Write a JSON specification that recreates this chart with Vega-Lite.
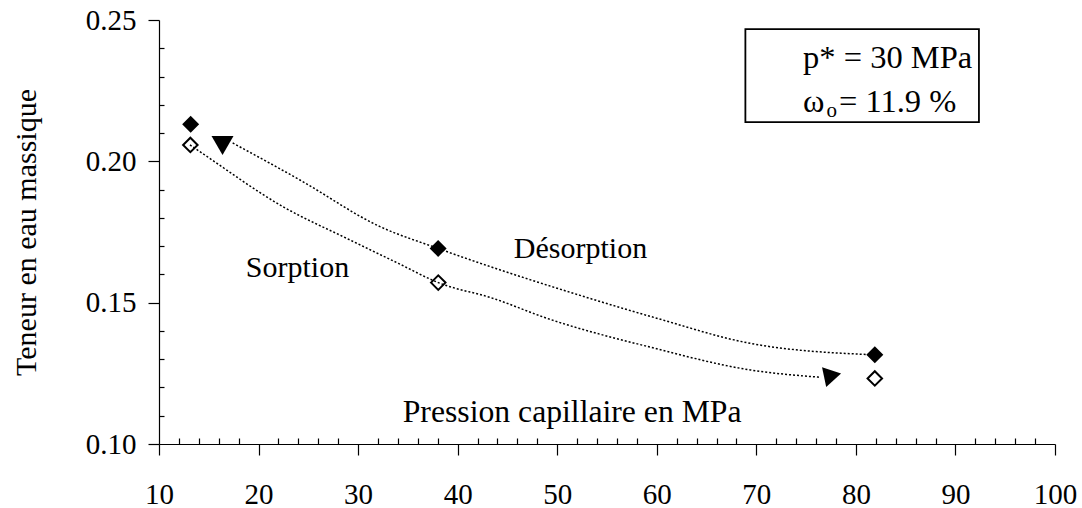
{
  "$schema": "https://vega.github.io/schema/vega-lite/v6.json",
  "width": 896,
  "height": 424,
  "autosize": "none",
  "padding": {"left": 159, "top": 20, "right": 27, "bottom": 64},
  "background": "white",
  "config": {"view": {"stroke": null}, "font": "Liberation Serif"},
  "datasets": {
    "curves": [
      {"curve": "Désorption", "x": 17.4, "y": 0.2065},
      {"curve": "Désorption", "x": 24.16, "y": 0.1934},
      {"curve": "Désorption", "x": 32.2, "y": 0.1769},
      {"curve": "Désorption", "x": 38.02, "y": 0.1692},
      {"curve": "Désorption", "x": 53.29, "y": 0.1515},
      {"curve": "Désorption", "x": 59.99, "y": 0.1445},
      {"curve": "Désorption", "x": 69.4, "y": 0.1356},
      {"curve": "Désorption", "x": 81.5, "y": 0.1316},
      {"curve": "Sorption", "x": 13.11, "y": 0.2058},
      {"curve": "Sorption", "x": 14.12, "y": 0.2034},
      {"curve": "Sorption", "x": 22.48, "y": 0.1839},
      {"curve": "Sorption", "x": 29.18, "y": 0.1722},
      {"curve": "Sorption", "x": 34.04, "y": 0.1639},
      {"curve": "Sorption", "x": 38.05, "y": 0.1571},
      {"curve": "Sorption", "x": 43.58, "y": 0.1515},
      {"curve": "Sorption", "x": 48.94, "y": 0.1445},
      {"curve": "Sorption", "x": 59.3, "y": 0.1343},
      {"curve": "Sorption", "x": 69.4, "y": 0.1262},
      {"curve": "Sorption", "x": 76.43, "y": 0.1236}
    ],
    "points": [
      {"series": "Désorption", "x": 13.18, "y": 0.2131},
      {"series": "Désorption", "x": 38.04, "y": 0.1692},
      {"series": "Désorption", "x": 81.9, "y": 0.1316},
      {"series": "Sorption", "x": 13.15, "y": 0.2058},
      {"series": "Sorption", "x": 38.05, "y": 0.1571},
      {"series": "Sorption", "x": 81.9, "y": 0.1232}
    ],
    "arrows": [
      {"end": "start", "x": 16.38, "y": 0.2056},
      {"end": "finish", "x": 77.66, "y": 0.1243}
    ],
    "labels": [
      {"text": "Désorption", "x": 52.34, "y": 0.1657},
      {"text": "Sorption", "x": 23.91, "y": 0.1591}
    ],
    "xlabel": [
      {"text": "Pression capillaire en MPa", "x": 51.5, "y": 0.1079}
    ],
    "box": [{"x": 68.9, "x2": 92.36, "y": 0.2468, "y2": 0.2139}],
    "boxtext": [
      {"text": "p* = 30 MPa", "x": 74.7, "y": 0.2329},
      {"text": "ω", "x": 74.7, "y": 0.2176},
      {"text": "= 11.9 %", "x": 78.3, "y": 0.2176}
    ],
    "subtext": [{"text": "o", "x": 77.06, "y": 0.2158}]
  },
  "layer": [
    {
      "data": {"name": "curves"},
      "mark": {"type": "line", "interpolate": "monotone", "color": "black", "strokeWidth": 1.5, "strokeDash": [2, 2]},
      "encoding": {
        "x": {"field": "x", "type": "quantitative", "scale": {"domain": [10, 100], "nice": false, "zero": false},
          "axis": {"orient": "bottom",
            "values": [10, 12, 14, 16, 18, 20, 22, 24, 26, 28, 30, 32, 34, 36, 38, 40, 42, 44, 46, 48, 50, 52, 54, 56, 58, 60, 62, 64, 66, 68, 70, 72, 74, 76, 78, 80, 82, 84, 86, 88, 90, 92, 94, 96, 98, 100],
            "tickCount": 200,
            "format": "d",
            "labelExpr": "datum.value % 10 === 0 ? datum.label : ''",
            "tickSize": {"condition": {"test": "datum.value % 10 === 0", "value": 11}, "value": -6},
            "tickColor": "black", "tickWidth": 1.2,
            "domainColor": "black", "domainWidth": 1.2, "labelFont": "Liberation Serif", "labelFontSize": 29, "labelColor": "black",
            "labelPadding": 25, "labelFlush": false, "labelOverlap": false, "grid": false, "title": null}},
        "y": {"field": "y", "type": "quantitative", "scale": {"domain": [0.1, 0.25], "nice": false, "zero": false},
          "axis": {"orient": "left",
            "values": [0.1, 0.11, 0.12, 0.13, 0.14, 0.15, 0.16, 0.17, 0.18, 0.19, 0.2, 0.21, 0.22, 0.23, 0.24, 0.25],
            "tickCount": 200,
            "format": ".2f",
            "labelExpr": "round(datum.value * 100) % 5 === 0 ? datum.label : ''",
            "tickSize": {"condition": {"test": "round(datum.value * 100) % 5 === 0", "value": 11}, "value": -5},
            "tickColor": "black", "tickWidth": 1.2,
            "domainColor": "black", "domainWidth": 1.2, "labelFont": "Liberation Serif", "labelFontSize": 29, "labelColor": "black",
            "labelPadding": 12, "labelFlush": false, "labelOverlap": false, "grid": false,
            "title": "Teneur en eau massique", "titleFont": "Liberation Serif", "titleFontSize": 30, "titleFontWeight": "normal",
            "titleColor": "black", "titlePadding": 44}},
        "detail": {"field": "curve"}
      }
    },
    {
      "data": {"name": "points"},
      "transform": [{"filter": "datum.series === 'Désorption'"}],
      "mark": {"type": "point", "shape": "diamond", "filled": true, "color": "black", "size": 289, "opacity": 1},
      "encoding": {
        "x": {"field": "x", "type": "quantitative"},
        "y": {"field": "y", "type": "quantitative"}
      }
    },
    {
      "data": {"name": "points"},
      "transform": [{"filter": "datum.series === 'Sorption'"}],
      "mark": {"type": "point", "shape": "diamond", "filled": false, "color": "black", "strokeWidth": 2, "size": 210, "opacity": 1},
      "encoding": {
        "x": {"field": "x", "type": "quantitative"},
        "y": {"field": "y", "type": "quantitative"}
      }
    },
    {
      "data": {"name": "arrows"},
      "transform": [{"filter": "datum.end === 'start'"}],
      "mark": {"type": "point", "shape": "triangle-down", "filled": true, "color": "black", "size": 484, "opacity": 1},
      "encoding": {
        "x": {"field": "x", "type": "quantitative"},
        "y": {"field": "y", "type": "quantitative"}
      }
    },
    {
      "data": {"name": "arrows"},
      "transform": [{"filter": "datum.end === 'finish'"}],
      "mark": {"type": "point", "shape": "triangle-right", "filled": true, "color": "black", "size": 400, "angle": -12, "opacity": 1},
      "encoding": {
        "x": {"field": "x", "type": "quantitative"},
        "y": {"field": "y", "type": "quantitative"}
      }
    },
    {
      "data": {"name": "labels"},
      "mark": {"type": "text", "align": "center", "baseline": "alphabetic", "font": "Liberation Serif", "fontSize": 30, "color": "black"},
      "encoding": {
        "x": {"field": "x", "type": "quantitative"},
        "y": {"field": "y", "type": "quantitative"},
        "text": {"field": "text"}
      }
    },
    {
      "data": {"name": "xlabel"},
      "mark": {"type": "text", "align": "center", "baseline": "alphabetic", "font": "Liberation Serif", "fontSize": 31.7, "color": "black"},
      "encoding": {
        "x": {"field": "x", "type": "quantitative"},
        "y": {"field": "y", "type": "quantitative"},
        "text": {"field": "text"}
      }
    },
    {
      "data": {"name": "box"},
      "mark": {"type": "rect", "fill": "white", "stroke": "black", "strokeWidth": 1.8},
      "encoding": {
        "x": {"field": "x", "type": "quantitative"},
        "x2": {"field": "x2"},
        "y": {"field": "y", "type": "quantitative"},
        "y2": {"field": "y2"}
      }
    },
    {
      "data": {"name": "boxtext"},
      "mark": {"type": "text", "align": "left", "baseline": "alphabetic", "font": "Liberation Serif", "fontSize": 32.5, "color": "black"},
      "encoding": {
        "x": {"field": "x", "type": "quantitative"},
        "y": {"field": "y", "type": "quantitative"},
        "text": {"field": "text"}
      }
    },
    {
      "data": {"name": "subtext"},
      "mark": {"type": "text", "align": "left", "baseline": "alphabetic", "font": "Liberation Serif", "fontSize": 21, "color": "black"},
      "encoding": {
        "x": {"field": "x", "type": "quantitative"},
        "y": {"field": "y", "type": "quantitative"},
        "text": {"field": "text"}
      }
    }
  ]
}
